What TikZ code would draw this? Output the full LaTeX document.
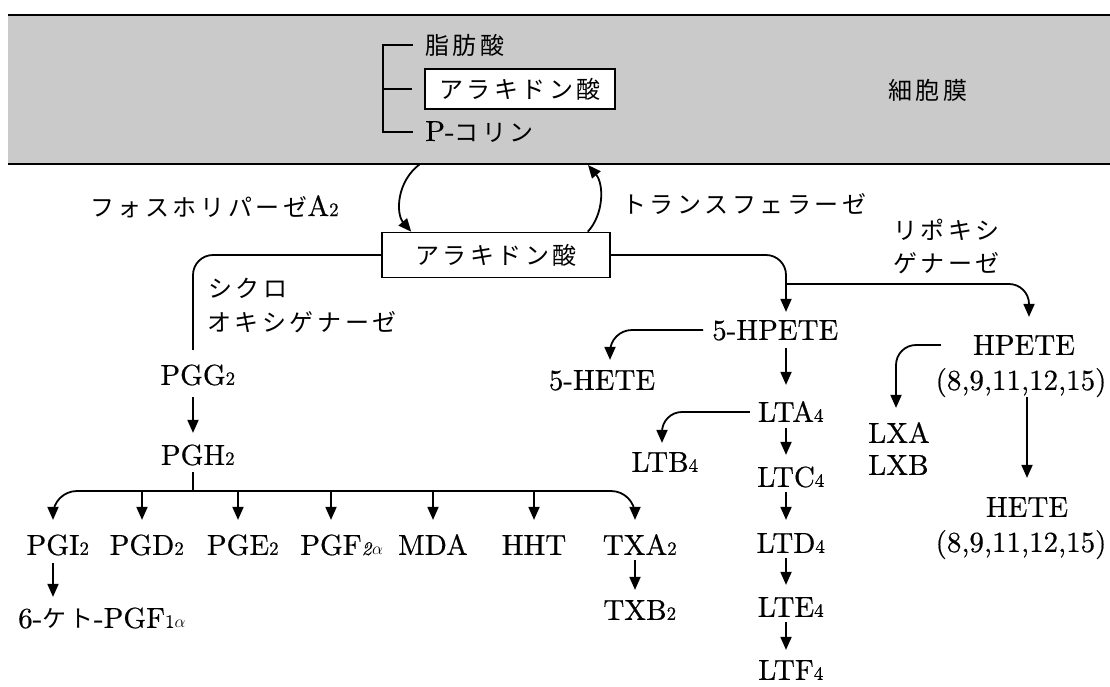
\documentclass[tikz,border=0pt]{standalone}
\usepackage{fontspec}
\setmainfont{lmroman10-regular.otf}[FakeBold=0.5, ItalicFont=lmroman10-italic.otf, BoldFont=lmroman10-bold.otf]
\newfontfamily\jp{Noto Sans CJK JP}[LetterSpace=15]
\usetikzlibrary{arrows.meta}
\newcommand\sbs[1]{{\fontsize{19}{19}\selectfont #1}}
\newcommand\rsb[1]{\rlap{\sbs{#1}}}
\newcommand\lat{\rmfamily\fontsize{29}{34}\selectfont}
\definecolor{bandgray}{RGB}{202,202,202}
\begin{document}
\begin{tikzpicture}[x=1pt,y=-1pt,
  lbl/.style={inner sep=0pt, font=\fontsize{29}{34}\selectfont, text height=19.8pt, text depth=0pt},
  jlbl/.style={inner sep=0pt, font=\fontsize{24}{28}\jp, text height=21pt, text depth=3pt},
  conn/.style={line width=1.8pt},
  arr/.style={conn, -{Triangle[length=13pt,width=11pt]}},
  boxed/.style={jlbl, draw, line width=1.6pt, fill=white},
]
\useasboundingbox (0,0) rectangle (1110,686);
% membrane band
\fill[bandgray] (8,15) rectangle (1110,164);
\draw[line width=1.6pt] (8,15) -- (1110,15);
\draw[line width=1.8pt] (8,164) -- (1110,164);
\coordinate (mb1) at (420,164);
\coordinate (mb2) at (588,165);

% inside band
\node[jlbl, anchor=west] (fa) at (425,45) {脂肪酸};
\node[boxed, minimum width=190pt, minimum height=40pt] (aa1) at (520,89) {アラキドン酸};
\node[jlbl, anchor=west] (pc) at (425,132) {{\lat P-}コリン};
\coordinate (brk) at (383,89);
\draw[conn] ([xshift=-12pt]fa.west) -- (brk |- fa.west) -- (brk |- pc.west) -- ([xshift=-12pt]pc.west);
\draw[conn] (brk) -- ([xshift=-12pt]aa1.west);
\node[jlbl] (mem) at (928,90) {細胞膜};

% second arachidonic acid box
\node[boxed, minimum width=228pt, minimum height=45pt] (aa2) at (496,255) {アラキドン酸};
\draw[arr] (mb1) .. controls (396,182) and (396,214) .. ([xshift=30pt]aa2.north west);
\draw[arr] ([xshift=-23pt]aa2.north east) .. controls (604,214) and (604,184) .. (mb2);
\node[jlbl, anchor=west] (pla) at (90,207) {フォスホリパーゼ{\lat A\sbs{2}}};
\node[jlbl, anchor=west] (tf) at (622,204) {トランスフェラーゼ};

% cyclooxygenase branch
\node[jlbl, anchor=west] (cy1) at (208,288) {シクロ};
\node[jlbl, anchor=west] (cy2) at (207,322) {オキシゲナーゼ};
\node[lbl] (pgg) at (193,375) {PGG\rsb{2}};
\node[lbl] (pgh) at (193,455) {PGH\rsb{2}};
\draw[conn, rounded corners=20pt] (aa2.west) -| ([yshift=15pt]pgg.north);
\draw[arr, shorten <=12pt, shorten >=12pt] (pgg.south) -- (pgh.north);

\coordinate (hb) at (193,491);
\draw[conn] ([yshift=-7pt]pgh.south) -- (hb);
\node[lbl] (pgi) at (53,545) {PGI\rsb{2}};
\node[lbl] (pgd) at (142,545) {PGD\rsb{2}};
\node[lbl] (pge) at (238,545) {PGE\rsb{2}};
\node[lbl] (pgf) at (331,545) {PGF\rlap{\sbs{\textit{2}$\alpha$}}};
\node[lbl] (mda) at (433,545) {MDA};
\node[lbl] (hht) at (534,545) {HHT};
\node[lbl] (txa) at (635,545) {TXA\rsb{2}};
\draw[arr, rounded corners=24pt] (hb) -| ([yshift=15pt]pgi.north);
\draw[arr, rounded corners=24pt] (hb) -| ([yshift=15pt]txa.north);
\foreach \n in {pgd,pge,pgf,mda,hht}{
  \draw[arr, shorten >=15pt] (\n.north |- hb) -- (\n.north);
}
\node[lbl, anchor=west] (keto) at (18,618) {6-{\fontsize{24}{28}\jp ケト}-PGF\sbs{1$\alpha$}};
\draw[arr, shorten <=8pt, shorten >=11pt] (pgi.south) -- (pgi.south |- keto.north);
\node[lbl] (txb) at (635,610) {TXB\rsb{2}};
\draw[arr, shorten <=5pt, shorten >=10pt] (txa.south) -- (txb.north);

% lipoxygenase branch
\node[jlbl, anchor=west] (lp1) at (893,230) {リポキシ};
\node[jlbl, anchor=west] (lp2) at (893,263) {ゲナーゼ};
\node[lbl, anchor=west] (hp5) at (712,330) {5-HPETE};
\coordinate (ltx) at (786,0);
\draw[arr, rounded corners=20pt] (aa2.east) -| ([yshift=8pt]ltx |- hp5.north);
\coordinate (br) at (786,284);
\node[lbl] (hpete) at (1024,345) {HPETE};
\node[lbl] (hpn) at (1021,380) {(8,9,11,12,15)};
\draw[arr, rounded corners=20pt] (br) -| ([shift={(5,-18)}]hpete.north);

\node[lbl] (h5) at (602,380) {5-HETE};
\draw[arr, rounded corners=22pt] ([xshift=-9pt]hp5.west) -| ([shift={(8,-10)}]h5.north);

\node[lbl] (lta) at (786,412) {LTA\rsb{4}};
\node[lbl] (ltb) at (660,462) {LTB\rsb{4}};
\node[lbl] (ltc) at (786,477) {LTC\rsb{4}};
\node[lbl] (ltd) at (786,543) {LTD\rsb{4}};
\node[lbl] (lte) at (786,607) {LTE\rsb{4}};
\node[lbl] (ltf) at (786,670) {LTF\rsb{4}};
\draw[arr, shorten <=8pt, shorten >=17pt] (ltx |- hp5.south) -- (lta.north);
\draw[arr, rounded corners=20pt] ([xshift=-8pt]lta.west) -| ([shift={(2,-9)}]ltb.north);
\draw[arr, shorten <=6pt, shorten >=12pt] (lta.south) -- (ltc.north);
\draw[arr, shorten <=5pt, shorten >=13pt] (ltc.south) -- (ltd.north);
\draw[arr, shorten <=5pt, shorten >=12pt] (ltd.south) -- (lte.north);
\draw[arr, shorten <=5pt, shorten >=10pt] (lte.south) -- (ltf.north);

\node[lbl, anchor=west] (lxa) at (868,433) {LXA};
\node[lbl, anchor=west] (lxb) at (868,465) {LXB};
\draw[arr, rounded corners=20pt] ([xshift=-32pt]hpete.west) -| ([shift={(-3,-15)}]lxa.north);

\node[lbl] (hete) at (1027,507) {HETE};
\node[lbl] (heten) at (1021,542) {(8,9,11,12,15)};
\draw[arr, shorten <=7pt, shorten >=19pt] ([xshift=6pt]hpn.south) -- ([xshift=6pt]hpn.south |- hete.north);
\end{tikzpicture}
\end{document}
